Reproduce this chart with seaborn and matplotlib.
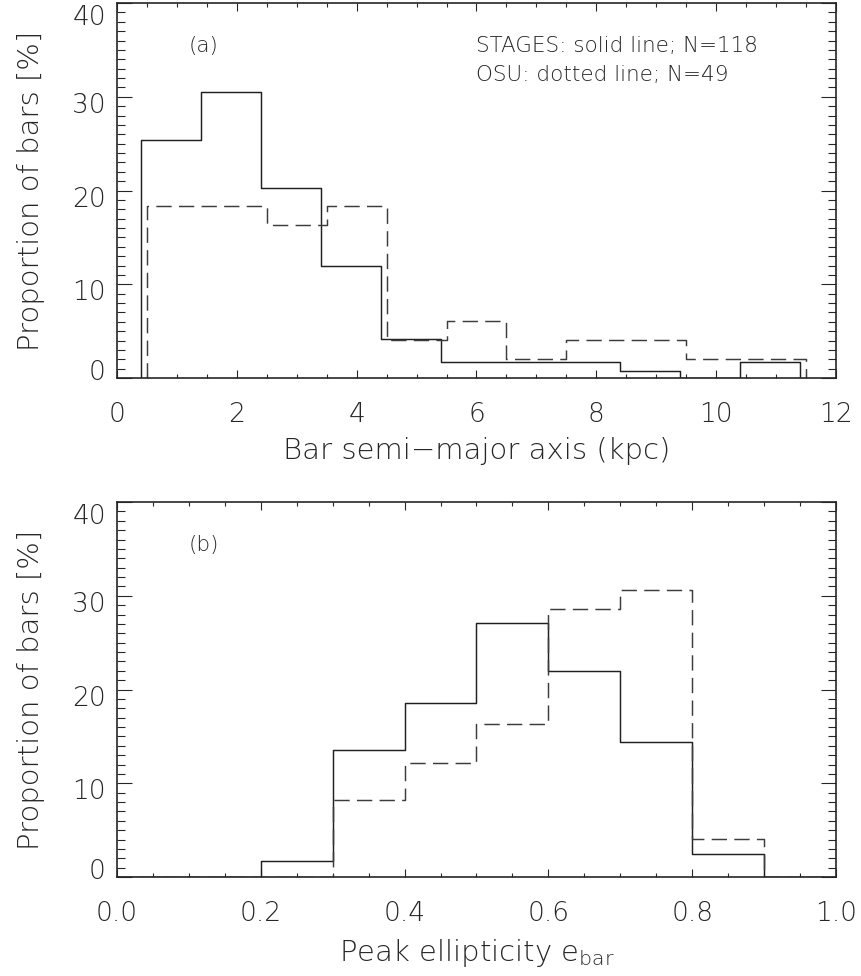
import numpy as np
import pandas as pd
import matplotlib
matplotlib.use("Agg")
import matplotlib.pyplot as plt
from matplotlib.ticker import MultipleLocator
from matplotlib.transforms import ScaledTranslation
import seaborn as sns

# ---- bar semi-major axis (kpc), 1 kpc bins ----
a_edges_stages = [0.4, 1.4, 2.4, 3.4, 4.4, 5.4, 6.4, 7.4, 8.4, 9.4, 10.4, 11.4]
a_pct_stages = [25.4, 30.5, 20.3, 11.9, 4.2, 1.7, 1.7, 1.7, 0.8, 0.0, 1.7]
a_edges_osu = [0.5, 1.5, 2.5, 3.5, 4.5, 5.5, 6.5, 7.5, 8.5, 9.5, 10.5, 11.5]
a_pct_osu = [18.4, 18.4, 16.3, 18.4, 4.1, 6.1, 2.0, 4.1, 4.1, 2.0, 2.0]

# ---- peak bar ellipticity, 0.1 bins ----
e_edges = [0.0, 0.1, 0.2, 0.3, 0.4, 0.5, 0.6, 0.7, 0.8, 0.9, 1.0]
e_pct_stages = [0.0, 0.0, 1.7, 13.6, 18.6, 27.1, 22.0, 14.4, 2.5, 0.0]
e_pct_osu = [0.0, 0.0, 0.0, 8.2, 12.2, 16.3, 28.6, 30.6, 4.1, 0.0]

x_ticks_a = [0, 2, 4, 6, 8, 10, 12]
x_ticks_b = [0.0, 0.2, 0.4, 0.6, 0.8, 1.0]
x_ticklabels_b = ["0.0", "0.2", "0.4", "0.6", "0.8", "1.0"]
y_ticks = [0, 10, 20, 30, 40]

legend_lines = ["STAGES: solid line; N=118", "OSU: dotted line; N=49"]
panel_tags = ["(a)", "(b)"]
xlabel_a = "Bar semi\u2212major axis (kpc)"
xlabel_b = r"Peak ellipticity $\mathrm{e}_{\mathrm{bar}}$"
ylabel = "Proportion of bars [%]"

sns.set_theme(style="ticks")
plt.rcParams["font.family"] = ["DejaVu Sans"]
plt.rcParams["font.weight"] = "light"
plt.rcParams["axes.labelweight"] = "light"
plt.rcParams["mathtext.fontset"] = "custom"
plt.rcParams["mathtext.rm"] = "DejaVu Sans:light"

INK = "#262626"
W, H = 862, 976
fig = plt.figure(figsize=(W / 100, H / 100), dpi=100)


def axes_px(left, top, right, bottom):
    return fig.add_axes([left / W, 1 - bottom / H, (right - left) / W, (bottom - top) / H])


def outline(edges, pct):
    """Closed step outline of a histogram given bin edges and heights."""
    xs = [edges[0]] + list(edges)
    ys = [0.0] + list(pct) + [0.0]
    return pd.DataFrame({"x": xs, "y": ys})


def draw_hist(ax, edges, pct, dashed):
    df = outline(edges, pct)
    sns.lineplot(data=df, x="x", y="y", ax=ax, sort=False, estimator=None,
                 drawstyle="steps-post", color="#202020" if not dashed else "#3c3c3c",
                 linewidth=1.05)
    line = ax.lines[-1]
    if dashed:
        line.set_dashes([10.5, 5.0])


def style_axes(ax, xlim, xticks, xticklabels, xminor):
    ax.set_xlim(*xlim)
    ax.set_ylim(0, 40)
    ax.set_xticks(xticks)
    ax.set_xticklabels(xticklabels)
    ax.set_yticks(y_ticks)
    ax.set_yticklabels([str(v) for v in y_ticks])
    ax.xaxis.set_minor_locator(MultipleLocator(xminor))
    ax.yaxis.set_minor_locator(MultipleLocator(1))
    for s in ax.spines.values():
        s.set_visible(True)
        s.set_linewidth(1.2)
        s.set_color(INK)
    ax.tick_params(axis="both", which="both", direction="in", top=True, right=True,
                   color=INK, width=0.8, labelcolor=INK, labelsize=19)
    ax.tick_params(axis="x", which="major", length=6.0, pad=17)
    ax.tick_params(axis="x", which="minor", length=3.0)
    ax.tick_params(axis="y", which="major", length=11.0, pad=8)
    ax.tick_params(axis="y", which="minor", length=5.8)
    # nudge the y tick labels the way the plotting package of origin places them
    shifts = {0: 8, 10: -6, 20: -6, 30: -6, 40: -12}
    for val, lab in zip(y_ticks, ax.get_yticklabels()):
        lab.set_transform(lab.get_transform() +
                          ScaledTranslation(0, shifts[val] / 100, fig.dpi_scale_trans))
    ax.set_ylabel(ylabel, fontsize=21, color=INK, fontweight="light")
    ax.yaxis.set_label_coords(-0.100, 0.5)
    ax.grid(False)


# panel (a)
ax1 = axes_px(117, 3, 836, 378)
draw_hist(ax1, a_edges_stages, a_pct_stages, dashed=False)
draw_hist(ax1, a_edges_osu, a_pct_osu, dashed=True)
style_axes(ax1, (0, 12), x_ticks_a, [str(v) for v in x_ticks_a], 0.5)
ax1.set_xlabel(xlabel_a, fontsize=21, color=INK, fontweight="light")
ax1.xaxis.set_label_coords(0.5, -0.158)
ax1.text(0.100, 0.885, panel_tags[0], transform=ax1.transAxes, fontsize=15.5,
         color=INK, ha="left", va="center", fontweight="light")
ax1.text(0.50, 0.885, legend_lines[0], transform=ax1.transAxes, fontsize=15.5,
         color=INK, ha="left", va="center", fontweight="light")
ax1.text(0.50, 0.808, legend_lines[1], transform=ax1.transAxes, fontsize=15.5,
         color=INK, ha="left", va="center", fontweight="light")

# panel (b)
ax2 = axes_px(117, 502, 836, 877)
draw_hist(ax2, e_edges, e_pct_stages, dashed=False)
draw_hist(ax2, e_edges, e_pct_osu, dashed=True)
style_axes(ax2, (0, 1), x_ticks_b, x_ticklabels_b, 0.05)
ax2.set_xlabel(xlabel_b, fontsize=21, color=INK, fontweight="light")
ax2.xaxis.set_label_coords(0.5, -0.160)
ax2.text(0.100, 0.885, panel_tags[1], transform=ax2.transAxes, fontsize=15.5,
         color=INK, ha="left", va="center", fontweight="light")

fig.savefig("out.png", dpi=100, facecolor="white")
